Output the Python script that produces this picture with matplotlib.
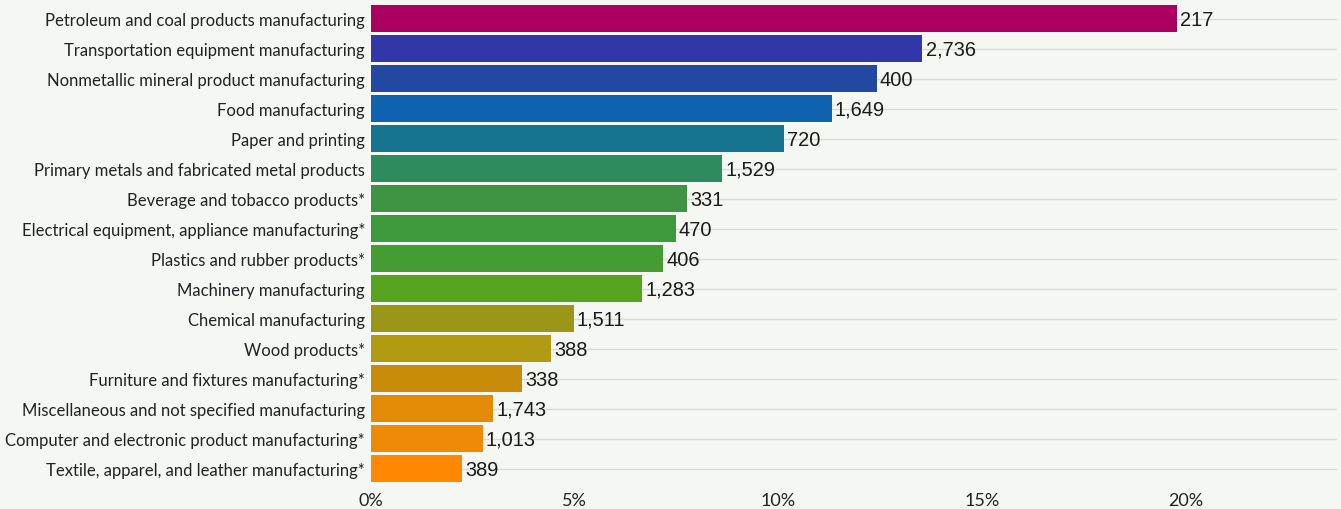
import matplotlib
matplotlib.use("Agg")
import matplotlib.pyplot as plt
from matplotlib.ticker import FuncFormatter

industries = [
    "Petroleum and coal products manufacturing",
    "Transportation equipment manufacturing",
    "Nonmetallic mineral product manufacturing",
    "Food manufacturing",
    "Paper and printing",
    "Primary metals and fabricated metal products",
    "Beverage and tobacco products*",
    "Electrical equipment, appliance manufacturing*",
    "Plastics and rubber products*",
    "Machinery manufacturing",
    "Chemical manufacturing",
    "Wood products*",
    "Furniture and fixtures manufacturing*",
    "Miscellaneous and not specified manufacturing",
    "Computer and electronic product manufacturing*",
    "Textile, apparel, and leather manufacturing*",
]
rates = [19.78, 13.53, 12.41, 11.31, 10.14, 8.62, 7.77, 7.48, 7.18, 6.66,
         4.98, 4.42, 3.72, 3.01, 2.75, 2.24]
counts = ["217", "2,736", "400", "1,649", "720", "1,529", "331", "470", "406",
          "1,283", "1,511", "388", "338", "1,743", "1,013", "389"]
colors = ["#AC0060", "#3236A6", "#2348A2", "#0E62B0", "#177491", "#2E8B5D",
          "#3E9442", "#3E993D", "#449C33", "#56A31F", "#9A9718", "#B19A12",
          "#C98B0A", "#E38A06", "#EE8A06", "#FF8702"]

bg = "#F4F7F2"
fig = plt.figure(figsize=(13.41, 5.10), dpi=100, facecolor=bg)
ax = fig.add_axes([0.2763, 0.05, 0.997 - 0.2763, 0.991 - 0.05])
ax.set_facecolor(bg)

y = list(range(len(industries)))
for yi in y:
    ax.axhline(yi, color="#D8DCD7", lw=1, zorder=0)
ax.barh(y, rates, height=0.9, color=colors, zorder=2)

for yi, r, c in zip(y, rates, counts):
    ax.text(r + 0.08, yi + 0.03, c, va="center", ha="left", fontsize=14.4,
            family="Liberation Sans", color="#1a1a1a", zorder=3)

ax.set_ylim(len(industries) - 0.5, -0.5)
ax.set_xlim(0, 23.7)
ax.set_yticks(y)
ax.set_yticklabels(industries, family="Lato", fontsize=12, color="#222222")
ax.set_xticks([0, 5, 10, 15, 20])
ax.xaxis.set_major_formatter(FuncFormatter(lambda v, p: f"{v:.0f}%"))
for lab in ax.get_xticklabels():
    lab.set_family("Lato")
    lab.set_fontsize(13)
    lab.set_color("#222222")
ax.tick_params(axis="both", length=0)
ax.tick_params(axis="y", pad=4)
ax.tick_params(axis="x", pad=6)
for s in ax.spines.values():
    s.set_visible(False)

fig.savefig("out.png", dpi=100, facecolor=bg)
